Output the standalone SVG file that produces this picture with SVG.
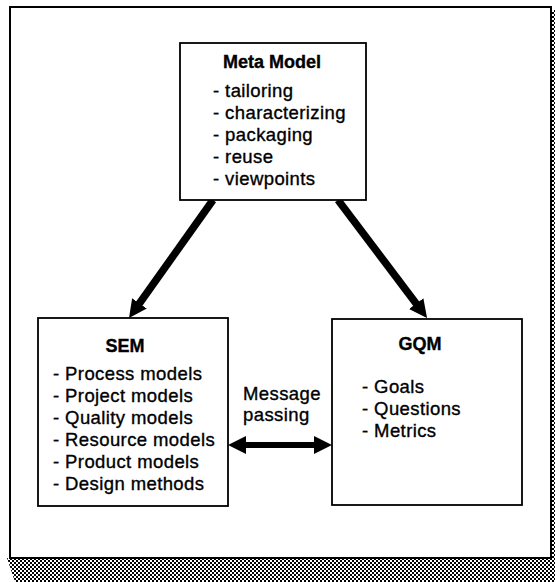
<svg xmlns="http://www.w3.org/2000/svg" width="555" height="582" viewBox="0 0 555 582">
<defs>
<pattern id="hatch" width="4" height="4" patternUnits="userSpaceOnUse">
<rect width="4" height="4" fill="#fff"/>
<rect x="0" y="0" width="2" height="2" fill="#000"/>
<rect x="2" y="2" width="2" height="2" fill="#000"/>
<rect x="1" y="1" width="1" height="1" fill="#000"/>
</pattern>
<marker id="head" viewBox="0 0 18 18" refX="2" refY="9" markerWidth="18" markerHeight="18" markerUnits="userSpaceOnUse" orient="auto-start-reverse">
<path d="M0,0 L18,9 L0,18 z" fill="#000"/>
</marker>
<style>
.box{fill:#fff;stroke:#000;stroke-width:1.8}
.t{font-family:"Liberation Sans",Arial,Helvetica,sans-serif;font-size:18.5px;fill:#000;stroke:#000;stroke-width:0.35;letter-spacing:0.4px}
.b{font-weight:bold;text-anchor:middle;letter-spacing:0;font-size:18px}
.arr{stroke:#000;stroke-width:7.5;fill:none}
.arrh{stroke:#000;stroke-width:6;fill:none}
</style>
</defs>
<g id="frame">
<polygon points="7,558 550,558 550,10 555,10 555,582 15,582" fill="url(#hatch)"/>
<rect x="10" y="7" width="541" height="551" fill="#fff" stroke="#000" stroke-width="2"/>
</g>
<g id="connectors">
<line class="arr" x1="213" y1="200" x2="138.3" y2="305" marker-end="url(#head)"/>
<line class="arr" x1="338" y1="200" x2="417.4" y2="305.2" marker-end="url(#head)"/>
<line class="arrh" x1="244" y1="445" x2="316" y2="445" marker-start="url(#head)" marker-end="url(#head)"/>
</g>
<g id="meta-model">
<rect class="box" x="180" y="43" width="186" height="157"/>
<text class="t b" x="272" y="68">Meta Model</text>
<text class="t" x="213" y="97">- tailoring</text>
<text class="t" x="213" y="119">- characterizing</text>
<text class="t" x="213" y="141">- packaging</text>
<text class="t" x="213" y="163">- reuse</text>
<text class="t" x="213" y="185">- viewpoints</text>
</g>
<g id="sem">
<rect class="box" x="38" y="318" width="190" height="188"/>
<text class="t b" x="125" y="352">SEM</text>
<text class="t" x="53" y="380">- Process models</text>
<text class="t" x="53" y="402">- Project models</text>
<text class="t" x="53" y="424">- Quality models</text>
<text class="t" x="53" y="446">- Resource models</text>
<text class="t" x="53" y="468">- Product models</text>
<text class="t" x="53" y="490">- Design methods</text>
</g>
<g id="gqm">
<rect class="box" x="332" y="319" width="190" height="186"/>
<text class="t b" x="420" y="350">GQM</text>
<text class="t" x="362" y="393">- Goals</text>
<text class="t" x="362" y="415">- Questions</text>
<text class="t" x="362" y="437">- Metrics</text>
</g>
<g id="label">
<text class="t" x="243" y="400">Message</text>
<text class="t" x="243" y="421">passing</text>
</g>
</svg>
